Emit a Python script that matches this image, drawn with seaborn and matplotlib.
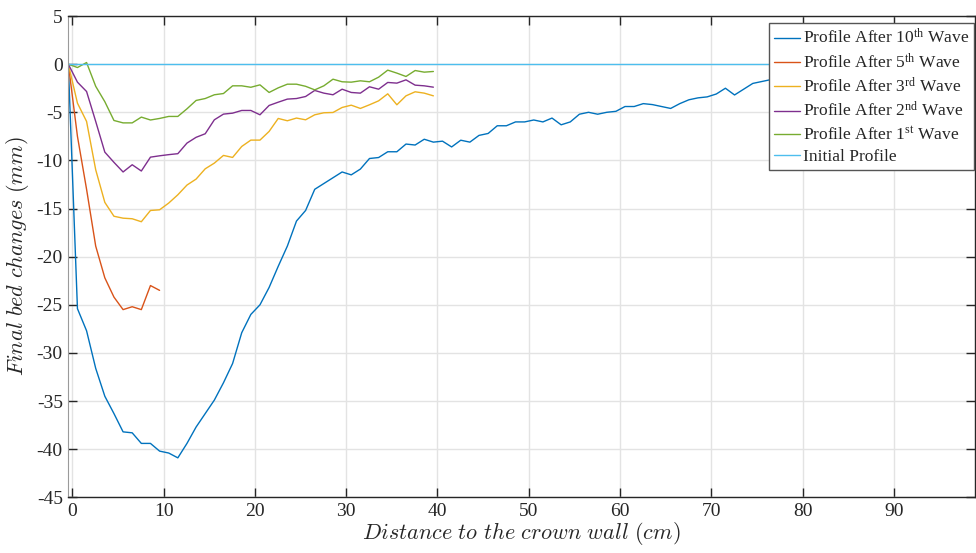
import matplotlib
matplotlib.use("Agg")
import matplotlib.pyplot as plt
import pandas as pd
import seaborn as sns

# sampling positions along the flume (cm)
X_GRID = [
    -0.45, 0.55, 1.55, 2.55, 3.55, 4.55, 5.55, 6.55, 7.55, 8.55,
    9.55, 10.55, 11.55, 12.55, 13.55, 14.55, 15.55, 16.55, 17.55, 18.55,
    19.55, 20.55, 21.55, 22.55, 23.55, 24.55, 25.55, 26.55, 27.55, 28.55,
    29.55, 30.55, 31.55, 32.55, 33.55, 34.55, 35.55, 36.55, 37.55, 38.55,
    39.55, 40.55, 41.55, 42.55, 43.55, 44.55, 45.55, 46.55, 47.55, 48.55,
    49.55, 50.55, 51.55, 52.55, 53.55, 54.55, 55.55, 56.55, 57.55, 58.55,
    59.55, 60.55, 61.55, 62.55, 63.55, 64.55, 65.55, 66.55, 67.55, 68.55,
    69.55, 70.55, 71.55, 72.55, 73.55, 74.55, 75.55, 76.55, 77.55, 78.55,
    79.55, 80.55, 81.55, 82.55, 83.55, 84.55,
]

WAVE_10 = [
    0.0, -25.4, -27.7, -31.6, -34.5, -36.3, -38.2, -38.3, -39.4, -39.4,
    -40.2, -40.4, -40.9, -39.4, -37.7, -36.3, -34.9, -33.1, -31.1, -27.9,
    -26.0, -25.0, -23.2, -21.0, -18.9, -16.3, -15.2, -13.0, -12.4, -11.8,
    -11.2, -11.5, -10.9, -9.8, -9.7, -9.1, -9.1, -8.3, -8.4, -7.8,
    -8.1, -8.0, -8.6, -7.9, -8.1, -7.4, -7.2, -6.4, -6.4, -6.0,
    -6.0, -5.8, -6.0, -5.6, -6.3, -6.0, -5.2, -5.0, -5.2, -5.0,
    -4.9, -4.4, -4.4, -4.1, -4.2, -4.4, -4.6, -4.1, -3.7, -3.5,
    -3.4, -3.1, -2.5, -3.2, -2.6, -2.0, -1.8, -1.6, -1.5, -1.4,
    -1.5, -1.3, -1.2, -1.3, -1.1, -1.0,
]
WAVE_5 = [0.0, -7.5, -13.0, -18.9, -22.2, -24.2, -25.5, -25.2, -25.5, -23.0, -23.5]
WAVE_3 = [
    0.0, -4.05, -5.95, -10.97, -14.36, -15.8, -16.0, -16.06, -16.37, -15.2,
    -15.13, -14.43, -13.57, -12.56, -11.94, -10.87, -10.28, -9.48, -9.69, -8.55,
    -7.89, -7.89, -6.99, -5.64, -5.88, -5.6, -5.78, -5.26, -5.05, -5.02,
    -4.5, -4.26, -4.6, -4.22, -3.81, -3.08, -4.22, -3.29, -2.87, -3.01,
    -3.29,
]
WAVE_2 = [
    0.0, -1.87, -2.84, -5.95, -9.14, -10.2, -11.2, -10.45, -11.1, -9.66,
    -9.52, -9.4, -9.3, -8.2, -7.6, -7.23, -5.78, -5.19, -5.09, -4.81,
    -4.81, -5.26, -4.29, -3.95, -3.63, -3.57, -3.36, -2.73, -3.01, -3.18,
    -2.6, -2.94, -3.01, -2.35, -2.6, -1.9, -1.97, -1.63, -2.18, -2.25,
    -2.39,
]
WAVE_1 = [
    0.0, -0.35, 0.17, -2.3, -3.9, -5.85, -6.1, -6.1, -5.5, -5.8,
    -5.64, -5.43, -5.43, -4.64, -3.77, -3.57, -3.18, -3.05, -2.25, -2.25,
    -2.4, -2.15, -2.94, -2.46, -2.08, -2.08, -2.3, -2.67, -2.25, -1.56,
    -1.83, -1.87, -1.73, -1.83, -1.35, -0.62, -0.93, -1.28, -0.66, -0.83,
    -0.76,
]
X_INIT = [-0.45, 98.9]
Y_INIT = [0.0, 0.0]

LABELS = [
    "Profile After 10$^{\\mathrm{th}}$ Wave",
    "Profile After 5$^{\\mathrm{th}}$ Wave",
    "Profile After 3$^{\\mathrm{rd}}$ Wave",
    "Profile After 2$^{\\mathrm{nd}}$ Wave",
    "Profile After 1$^{\\mathrm{st}}$ Wave",
    "Initial Profile",
]
# MATLAB default line colours
COLORS = ["#0072BD", "#D95319", "#EDB120", "#7E2F8E", "#77AC30", "#4DBEEE"]

sns.set_style("ticks")
plt.rcParams["font.family"] = ["Liberation Serif", "DejaVu Serif"]
plt.rcParams["mathtext.fontset"] = "custom"
plt.rcParams["mathtext.rm"] = "Liberation Serif"
plt.rcParams["mathtext.it"] = "Liberation Serif:italic"
plt.rcParams["axes.unicode_minus"] = False

series = [
    (X_GRID[:len(WAVE_10)], WAVE_10),
    (X_GRID[:len(WAVE_5)], WAVE_5),
    (X_GRID[:len(WAVE_3)], WAVE_3),
    (X_GRID[:len(WAVE_2)], WAVE_2),
    (X_GRID[:len(WAVE_1)], WAVE_1),
    (X_INIT, Y_INIT),
]

fig = plt.figure(figsize=(9.76, 5.53), dpi=100)
ax = fig.add_axes([0.070, 0.1007, 0.929, 0.8703])

for (xs, ys), label, color in zip(series, LABELS, COLORS):
    df = pd.DataFrame({"x": xs, "y": ys})
    sns.lineplot(data=df, x="x", y="y", ax=ax, color=color, label=label,
                 linewidth=1.0, sort=False, estimator=None)

ax.set_xlim(-0.45, 98.9)
ax.set_ylim(-45, 5)
ax.set_xticks(range(0, 100, 10))
ax.set_yticks(range(-45, 10, 5))
ax.grid(True, color="#e3e3e3", linewidth=1.0)
ax.set_axisbelow(True)
ax.tick_params(direction="in", length=6.5, width=1.0, top=True, right=True,
               labelsize=14, colors="#262626", pad=4)
for side in ["top", "bottom", "right"]:
    ax.spines[side].set_color("#262626")
    ax.spines[side].set_linewidth(1.0)
ax.spines["left"].set_color("#9a9a9a")

ax.set_xlabel(r"$Distance\ to\ the\ crown\ wall\ \mathrm{(}cm\mathrm{)}$",
              fontsize=16, math_fontfamily="cm", labelpad=0)
ax.set_ylabel(r"$Final\ bed\ changes\ \mathrm{(}mm\mathrm{)}$",
              fontsize=16, math_fontfamily="cm", labelpad=4)

leg = ax.legend(loc="upper right", bbox_to_anchor=(0.999, 0.985), borderaxespad=0,
                fontsize=12.5, frameon=True, fancybox=False, framealpha=1,
                edgecolor="#555555", handlelength=1.5, handletextpad=0.15,
                labelspacing=0.3, borderpad=0.3)
leg.get_frame().set_linewidth(1.0)

fig.savefig("out.png", dpi=100)
